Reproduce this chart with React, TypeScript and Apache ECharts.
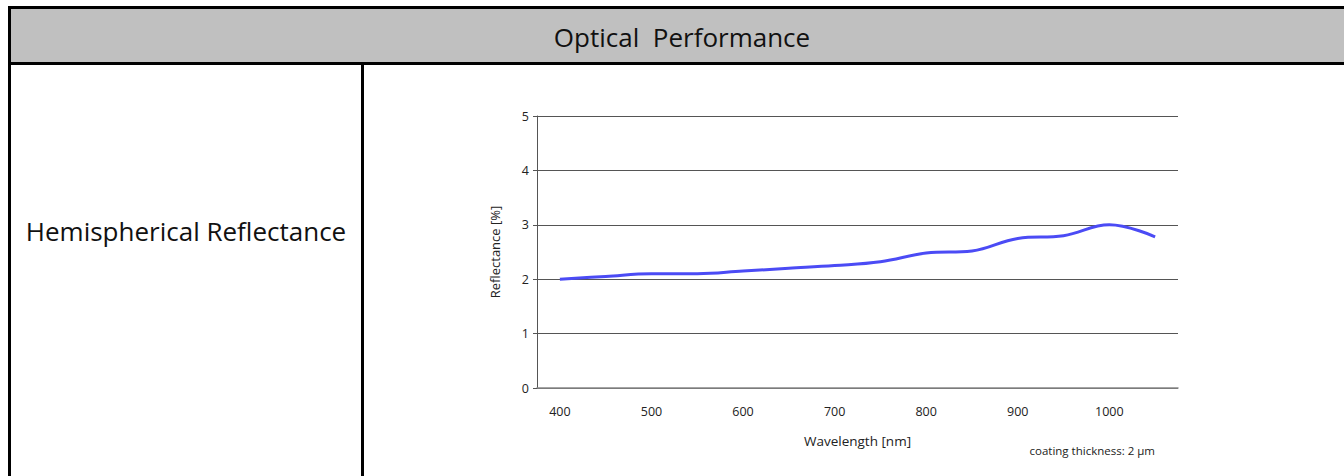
import React, { useEffect, useRef } from "react";
import * as echarts from "echarts";

const wavelengths = [400, 450, 500, 550, 600, 650, 700, 750, 800, 850, 900, 950, 1000, 1050];
const reflectance = [2.0, 2.05, 2.1, 2.1, 2.15, 2.2, 2.25, 2.32, 2.48, 2.52, 2.75, 2.8, 3.0, 2.78];
const xTickLabels = [400, 500, 600, 700, 800, 900, 1000];
const headerTitle = "Optical  Performance";
const rowTitle = "Hemispherical Reflectance";
const yAxisName = "Reflectance [%]";
const xAxisName = "Wavelength [nm]";
const footNote = "coating thickness: 2 µm";

const FONT = "'Open Sans', sans-serif";

export default function App() {
  const ref = useRef<HTMLDivElement>(null);
  useEffect(() => {
    if (!ref.current) return;
    const chart = echarts.init(ref.current, undefined, { renderer: "svg" });
    chart.setOption({
      animation: false,
      backgroundColor: "#ffffff",
      textStyle: { fontFamily: FONT },
      grid: { left: 537, top: 116, right: 166, bottom: 88, containLabel: false },
      xAxis: {
        type: "value",
        min: 375,
        max: 1075,
        name: xAxisName,
        nameLocation: "middle",
        nameGap: 46,
        nameTextStyle: { fontSize: 13.5, color: "#222", fontFamily: FONT },
        axisLine: { show: true, lineStyle: { color: "#888", width: 1.5 } },
        axisTick: { show: false },
        splitLine: { show: false },
        axisLabel: {
          customValues: xTickLabels,
          formatter: (v: number) => String(v),
          margin: 17,
          fontSize: 12.5,
          color: "#222",
          fontFamily: FONT,
        },
      },
      yAxis: {
        type: "value",
        min: 0,
        max: 5,
        interval: 1,
        name: yAxisName,
        nameLocation: "middle",
        nameGap: 36,
        nameTextStyle: { fontSize: 13, color: "#222", fontFamily: FONT },
        axisLine: { show: true, lineStyle: { color: "#555", width: 1 } },
        axisTick: { show: true, length: 4, lineStyle: { color: "#555" } },
        splitLine: { show: true, lineStyle: { color: "#555", width: 1 } },
        axisLabel: { margin: 8, fontSize: 12.5, color: "#222", fontFamily: FONT },
      },
      series: [
        {
          type: "line",
          data: wavelengths.map((w, i) => [w, reflectance[i]]),
          smooth: 0.4,
          showSymbol: false,
          lineStyle: { color: "#4b4bf5", width: 3 },
          itemStyle: { color: "#4b4bf5" },
        },
      ],
      graphic: [
        { type: "rect", shape: { x: 11, y: 9, width: 1340, height: 53 }, style: { fill: "#c0c0c0" }, z: -1 },
        { type: "rect", shape: { x: 8, y: 6, width: 1340, height: 3 }, style: { fill: "#000" } },
        { type: "rect", shape: { x: 8, y: 62, width: 1340, height: 3 }, style: { fill: "#000" } },
        { type: "rect", shape: { x: 8, y: 6, width: 3, height: 480 }, style: { fill: "#000" } },
        { type: "rect", shape: { x: 361, y: 62, width: 3, height: 420 }, style: { fill: "#000" } },
        {
          type: "text",
          x: 682,
          y: 37,
          style: {
            text: headerTitle,
            fill: "#111",
            font: `26px ${FONT}`,
            align: "center",
            verticalAlign: "middle",
          },
        },
        {
          type: "text",
          x: 186,
          y: 231,
          style: {
            text: rowTitle,
            fill: "#111",
            font: `26px ${FONT}`,
            align: "center",
            verticalAlign: "middle",
          },
        },
        {
          type: "text",
          x: 1155,
          y: 450,
          style: {
            text: footNote,
            fill: "#222",
            font: `11.5px ${FONT}`,
            align: "right",
            verticalAlign: "middle",
          },
        },
      ],
    });
    return () => chart.dispose();
  }, []);
  return (
    <div
      ref={ref}
      style={{ position: "absolute", left: 0, top: 0, width: 1344, height: 476 }}
    />
  );
}
